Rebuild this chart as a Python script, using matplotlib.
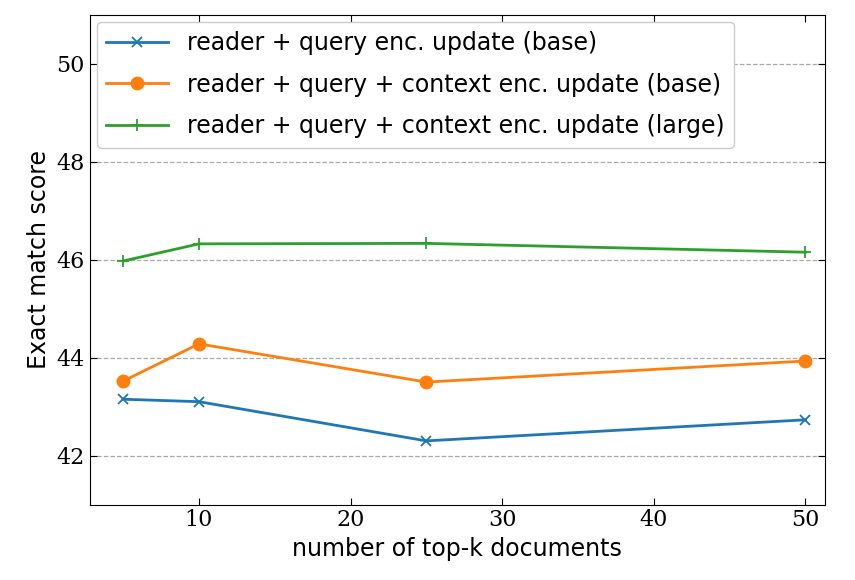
import matplotlib
matplotlib.use("Agg")
import matplotlib.pyplot as plt

k = [5, 10, 25, 50]
blue = [43.15, 43.1, 42.3, 42.73]
orange = [43.52, 44.28, 43.5, 43.93]
green = [45.97, 46.32, 46.33, 46.15]
labels = ["reader + query enc. update (base)",
          "reader + query + context enc. update (base)",
          "reader + query + context enc. update (large)"]

fig = plt.figure(figsize=(8.55, 5.8), dpi=100)
ax = fig.add_axes([0.105, 0.13, 0.86, 0.845])
ax.plot(k, blue, marker='x', ms=7, mew=1.3, lw=2, color='#1f77b4', label=labels[0])
ax.plot(k, orange, marker='o', ms=9, lw=2, color='#ff7f0e', label=labels[1])
ax.plot(k, green, marker='+', ms=8, mew=1.3, lw=2, color='#2ca02c', label=labels[2])
ax.set_xlim(2.8, 51.3)
ax.set_ylim(41, 51)
ax.set_yticks([42, 44, 46, 48, 50])
ax.set_xticks([10, 20, 30, 40, 50])
ax.yaxis.grid(True, ls='--', color='#aaaaaa', lw=0.9)
ax.tick_params(direction='in', top=True, right=True, labelsize=16, length=5)
for t in ax.get_xticklabels() + ax.get_yticklabels():
    t.set_fontfamily('DejaVu Serif')
ax.set_xlabel("number of top-k documents", fontsize=17)
ax.set_ylabel("Exact match score", fontsize=17)
ax.legend(loc='upper left', fontsize=17, framealpha=1, edgecolor='#cccccc',
          handlelength=2.6, labelspacing=0.75, borderaxespad=0.3)
fig.savefig("out.png", dpi=100)
